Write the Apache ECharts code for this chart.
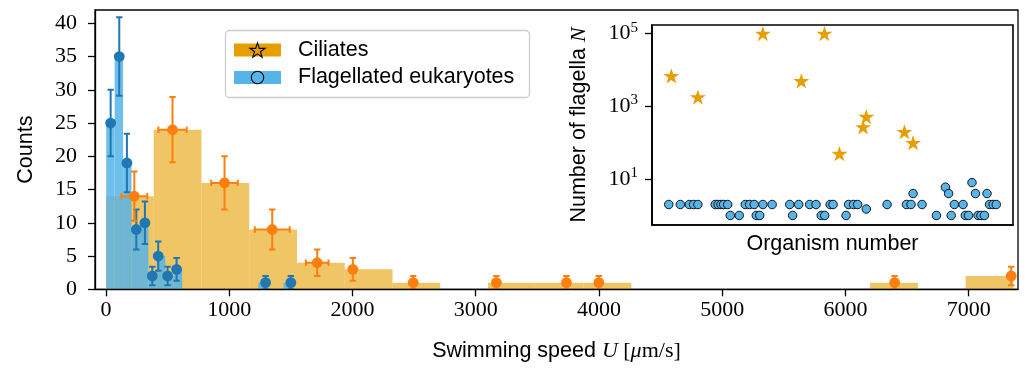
<!DOCTYPE html>
<html><head><meta charset="utf-8">
<script src="https://cdn.jsdelivr.net/npm/echarts@6/dist/echarts.min.js"></script>
<style>html,body{margin:0;padding:0;background:#fff}#c{width:1027px;height:368px}</style>
</head><body><div id="c"></div>
<script>
// ---------------- data ----------------
const xTickValues = [0, 1000, 2000, 3000, 4000, 5000, 6000, 7000];
const yTickValues = [0, 5, 10, 15, 20, 25, 30, 35, 40];
const insetYTickValues = [10, 1000, 100000];

// Flagellated eukaryotes: histogram bins (speed, um/s) and counts
const flagHistLo = [2, 70.5, 139, 207.5, 276, 344.5, 413, 481.5, 550, 1235, 1440.5];
const flagHistHi = [70.5, 139, 207.5, 276, 344.5, 413, 481.5, 550, 618.5, 1303.5, 1509];
const flagCounts = [25, 35, 19, 9, 10, 2, 5, 2, 3, 1, 1];
const flagMeanSpeed = [38, 108, 170, 246, 316, 376, 424, 500, 573, 1295, 1500];
const flagCountErr = [5, 5.9, 4.4, 3, 3.2, 1.4, 2.2, 1.4, 1.7, 1, 1];

// Ciliates
const cilHistLo = [0, 387.5, 775, 1162.5, 1550, 1937.5, 2325, 3100, 3487.5, 3875, 6200, 6975];
const cilHistHi = [387.5, 775, 1162.5, 1550, 1937.5, 2325, 2712.5, 3487.5, 3875, 4262.5, 6587.5, 7362.5];
const cilCounts = [14, 24, 16, 9, 4, 3, 1, 1, 1, 1, 1, 2];
const cilMeanSpeed = [230, 540, 962, 1349, 1714, 2003, 2493, 3168, 3736, 3999, 6399, 7345];
const cilSpeedErr = [105, 115, 108, 142, 92, 0, 0, 0, 0, 0, 0, 0];
const cilCountErr = [3.7, 4.9, 4, 3, 2, 1.7, 1, 1, 1, 1, 1, 1.4];

// Inset: number of flagella per organism
const cilOrgNumber = [6.7, 15.9, 38.4, 51.7, 59.7, 64.9, 73.1, 74.2, 87.4, 90.4];
const cilFlagella = [6850, 1800, 100000, 5000, 100000, 50, 270, 520, 200, 100];
const flagOrgNumber = [5.8, 9.8, 12.9, 14.4, 15.9, 21.9, 22.9, 23.9, 24.8, 26.2, 27.1, 30.2, 32.3, 33.8, 35.4, 36.1, 37.3, 38.4, 41.6, 47.7, 48.7, 50.8, 54.6, 56.8, 58.6, 59.8, 61.7, 62.7, 67.2, 68.1, 69.8, 71.2, 74.2, 81.4, 88.1, 89.7, 90.4, 93.5, 98.5, 101.6, 102.7, 103.6, 104.7, 107.7, 108.5, 109.6, 110.8, 112.0, 112.9, 113.9, 115.1, 116.0, 116.9, 118.1, 119.2];
const flagFlagella = [2, 2, 2, 2, 2, 2, 2, 2, 2, 2, 1, 1, 2, 2, 2, 1, 1, 2, 2, 2, 1, 2, 2, 2, 1, 1, 2, 2, 1, 2, 2, 2, 1.5, 2, 2, 2, 4, 2, 1, 6, 4, 1, 2, 2, 1, 1, 8, 4, 1, 1, 1, 4, 2, 2, 2];

// ---------------- styles ----------------
const SANS = '"Liberation Sans", Arial, sans-serif';
const SERIF = '"Liberation Serif", "DejaVu Serif", serif';
const cOrangeBar = 'rgba(230,159,0,0.6)';
const cBlueBar = 'rgba(86,180,233,0.85)';
const cOrangePt = '#ff7f0e';
const cBluePt = '#1f77b4';
const cilColor = '#E69F00';
const flagColor = '#56B4E9';

function zip() { const a = arguments; return a[0].map((_, i) => Array.from(a, arr => arr[i])); }

function histRender(color) {
  return function (params, api) {
    const p0 = api.coord([api.value(0), api.value(2)]);
    const p1 = api.coord([api.value(1), 0]);
    return { type: 'rect', shape: { x: p0[0], y: p0[1], width: p1[0] - p0[0], height: p1[1] - p0[1] },
      style: { fill: color } };
  };
}
function errRender(color) {
  return function (params, api) {
    const x = api.value(0), y = api.value(1), ex = api.value(2), ey = api.value(3);
    const c = api.coord([x, y]);
    const top = api.coord([x, y + ey]), bot = api.coord([x, y - ey]);
    const lft = api.coord([x - ex, y]), rgt = api.coord([x + ex, y]);
    const cap = 3.2;
    const st = { stroke: color, lineWidth: 2 };
    const ch = [];
    ch.push({ type: 'line', shape: { x1: c[0], y1: top[1], x2: c[0], y2: bot[1] }, style: st });
    ch.push({ type: 'line', shape: { x1: c[0] - cap, y1: top[1], x2: c[0] + cap, y2: top[1] }, style: st });
    ch.push({ type: 'line', shape: { x1: c[0] - cap, y1: bot[1], x2: c[0] + cap, y2: bot[1] }, style: st });
    if (ex > 0) {
      ch.push({ type: 'line', shape: { x1: lft[0], y1: c[1], x2: rgt[0], y2: c[1] }, style: st });
      ch.push({ type: 'line', shape: { x1: lft[0], y1: c[1] - cap, x2: lft[0], y2: c[1] + cap }, style: st });
      ch.push({ type: 'line', shape: { x1: rgt[0], y1: c[1] - cap, x2: rgt[0], y2: c[1] + cap }, style: st });
    }
    ch.push({ type: 'circle', shape: { cx: c[0], cy: c[1], r: 5.4 }, style: { fill: color } });
    return { type: 'group', children: ch };
  };
}

// star polygon (matplotlib '*')
function starPoints(cx, cy, r) {
  const pts = [];
  for (let i = 0; i < 10; i++) {
    const ang = -Math.PI / 2 + i * Math.PI / 5;
    const rr = i % 2 === 0 ? r : r * 0.382;
    pts.push([cx + rr * Math.cos(ang), cy + rr * Math.sin(ang)]);
  }
  return pts;
}
const starPath = 'path://' + starPoints(0, 0, 100).map((p, i) => (i ? 'L' : 'M') + p[0].toFixed(2) + ',' + p[1].toFixed(2)).join(' ') + ' Z';

const chart = echarts.init(document.getElementById('c'), null, { renderer: 'canvas' });

const option = {
  animation: false,
  backgroundColor: '#fff',
  grid: [
    { left: 95, right: 9, top: 10, bottom: 78.7, show: true, borderColor: '#000', borderWidth: 1.3, backgroundColor: 'transparent', z: 0 },
    { left: 652, right: 14, top: 25, height: 200, show: true, borderColor: '#000', borderWidth: 1.6, backgroundColor: '#fff', z: 5 }
  ],
  xAxis: [
    {
      gridIndex: 0, type: 'value', min: -89, max: 7400, z: 6,
      splitLine: { show: false },
      axisLine: { show: true, onZero: false, lineStyle: { color: '#000', width: 1.3 } },
      axisTick: { show: true, customValues: xTickValues, length: 7, lineStyle: { color: '#000', width: 1.3 } },
      axisLabel: { customValues: xTickValues, margin: 10, fontFamily: SERIF, fontSize: 22, color: '#000',
        formatter: v => String(v) },
      name: '{a|Swimming speed }{u|U}{c| [}{u|μ}{c|m/s]}',
      nameLocation: 'middle', nameGap: 51,
      nameTextStyle: { rich: {
        a: { fontFamily: SANS, fontSize: 21.5, color: '#000' },
        u: { fontFamily: SERIF, fontStyle: 'italic', fontSize: 22, color: '#000' },
        c: { fontFamily: SERIF, fontSize: 22, color: '#000' } } }
    },
    {
      gridIndex: 1, type: 'value', min: 0, max: 125, z: 7,
      splitLine: { show: false },
      axisLine: { show: true, onZero: false, lineStyle: { color: '#000', width: 1.6 } },
      axisTick: { show: false }, axisLabel: { show: false },
      name: 'Organism number', nameLocation: 'middle', nameGap: 8,
      nameTextStyle: { fontFamily: SANS, fontSize: 21.5, color: '#000', verticalAlign: 'top' }
    }
  ],
  yAxis: [
    {
      gridIndex: 0, type: 'value', min: 0, max: 42, z: 6,
      splitLine: { show: false },
      axisLine: { show: true, onZero: false, lineStyle: { color: '#000', width: 1.3 } },
      axisTick: { show: true, customValues: yTickValues, length: 7, lineStyle: { color: '#000', width: 1.3 } },
      axisLabel: { customValues: yTickValues, margin: 18, fontFamily: SERIF, fontSize: 22, color: '#000' },
      name: 'Counts', nameLocation: 'middle', nameGap: 58, nameRotate: 90,
      nameTextStyle: { fontFamily: SANS, fontSize: 21.5, color: '#000' }
    },
    {
      gridIndex: 1, type: 'log', logBase: 10, min: 0.546, max: 172000, z: 7,
      splitLine: { show: false }, minorTick: { show: false },
      axisLine: { show: true, onZero: false, lineStyle: { color: '#000', width: 1.6 } },
      axisTick: { show: true, customValues: insetYTickValues, length: 7, lineStyle: { color: '#000', width: 1.3 } },
      axisLabel: {
        customValues: insetYTickValues, margin: 14,
        formatter: v => '{b|10}{s|' + Math.round(Math.log10(v)) + '}',
        rich: {
          b: { fontFamily: SERIF, fontSize: 22, color: '#000' },
          s: { fontFamily: SERIF, fontSize: 15, color: '#000', verticalAlign: 'bottom', padding: [0, 0, 12, 0] }
        }
      },
      name: '{a|Number of flagella }{n|N}', nameLocation: 'middle', nameGap: 62, nameRotate: 90,
      nameTextStyle: { rich: {
        a: { fontFamily: SANS, fontSize: 21.5, color: '#000' },
        n: { fontFamily: SERIF, fontStyle: 'italic', fontSize: 22, color: '#000' } } }
    }
  ],
  graphic: [
    { type: 'rect', z: 20, shape: { x: 225.5, y: 30.5, width: 304, height: 67, r: 4 },
      style: { fill: 'rgba(255,255,255,0.85)', stroke: '#cccccc', lineWidth: 1.3 } },
    { type: 'rect', z: 21, shape: { x: 234, y: 43.5, width: 47, height: 13 }, style: { fill: cilColor } },
    { type: 'polygon', z: 22, shape: { points: starPoints(257.5, 50.8, 8) }, style: { fill: 'none', stroke: '#000', lineWidth: 1.1 } },
    { type: 'text', z: 22, style: { text: 'Ciliates', x: 298, y: 50, font: '21.5px ' + SANS, fill: '#000', verticalAlign: 'middle' } },
    { type: 'rect', z: 21, shape: { x: 234, y: 71, width: 47, height: 13 }, style: { fill: flagColor } },
    { type: 'circle', z: 22, shape: { cx: 257.5, cy: 77.5, r: 6.2 }, style: { fill: 'none', stroke: '#000', lineWidth: 1.1 } },
    { type: 'text', z: 22, style: { text: 'Flagellated eukaryotes', x: 298, y: 77.5, font: '21.5px ' + SANS, fill: '#000', verticalAlign: 'middle' } }
  ],
  series: [
    { type: 'custom', name: 'cilHist', xAxisIndex: 0, yAxisIndex: 0, z: 1, clip: true,
      renderItem: histRender(cOrangeBar), encode: { x: [0, 1], y: 2 },
      data: zip(cilHistLo, cilHistHi, cilCounts) },
    { type: 'custom', name: 'flagHist', xAxisIndex: 0, yAxisIndex: 0, z: 2, clip: true,
      renderItem: histRender(cBlueBar), encode: { x: [0, 1], y: 2 },
      data: zip(flagHistLo, flagHistHi, flagCounts) },
    { type: 'custom', name: 'flagErr', xAxisIndex: 0, yAxisIndex: 0, z: 3, clip: true,
      renderItem: errRender(cBluePt), encode: { x: 0, y: 1 },
      data: zip(flagMeanSpeed, flagCounts, flagMeanSpeed.map(() => 0), flagCountErr) },
    { type: 'custom', name: 'cilErr', xAxisIndex: 0, yAxisIndex: 0, z: 4, clip: true,
      renderItem: errRender(cOrangePt), encode: { x: 0, y: 1 },
      data: zip(cilMeanSpeed, cilCounts, cilSpeedErr, cilCountErr) },
    { type: 'scatter', name: 'cilInset', xAxisIndex: 1, yAxisIndex: 1, z: 10,
      symbol: starPath, symbolKeepAspect: true, symbolSize: 16,
      itemStyle: { color: cilColor, opacity: 1 },
      data: zip(cilOrgNumber, cilFlagella) },
    { type: 'scatter', name: 'flagInset', xAxisIndex: 1, yAxisIndex: 1, z: 11,
      symbol: 'circle', symbolSize: 8.5,
      itemStyle: { color: flagColor, borderColor: '#000', borderWidth: 0.9, opacity: 1 },
      data: zip(flagOrgNumber, flagFlagella) }
  ]
};
chart.setOption(option);
</script>
</body></html>
